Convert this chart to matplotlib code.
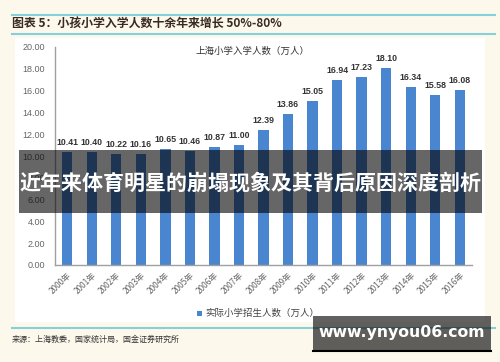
import matplotlib
matplotlib.use("Agg")
import matplotlib.pyplot as plt
from matplotlib.patches import Rectangle
from matplotlib.lines import Line2D

plt.rcParams['font.family'] = ['Noto Sans CJK SC', 'DejaVu Sans']

years = ["2000年", "2001年", "2002年", "2003年", "2004年", "2005年", "2006年", "2007年", "2008年",
         "2009年", "2010年", "2011年", "2012年", "2013年", "2014年", "2015年", "2016年"]
values = [10.41, 10.40, 10.22, 10.16, 10.65, 10.46, 10.87, 11.00, 12.39,
          13.86, 15.05, 16.94, 17.23, 18.10, 16.34, 15.58, 16.08]
yticks = [0, 2, 4, 6, 8, 10, 12, 14, 16, 18, 20]
header = "图表 5：小孩小学入学人数十余年来增长 50%-80%"
chart_title = "上海小学入学人数（万人）"
legend_label = "实际小学招生人数（万人）"
source = "来源：上海教委，国家统计局，国金证券研究所"
banner = "近年来体育明星的崩塌现象及其背后原因深度剖析"
watermark = "www.ynyou06.com"

W, H = 500, 362
fig = plt.figure(figsize=(W / 100, H / 100), dpi=100, facecolor="#fdf8ec")

def fx(x):
    return x / W

def fy(y):
    return 1 - y / H

# white panel
fig.patches.append(Rectangle((fx(15), fy(322)), fx(470), (322 - 38) / H, transform=fig.transFigure,
                             facecolor="white", edgecolor="none", zorder=-5))

# header lines
teal = "#86d0da"
for yy in (15, 34, 328):
    fig.add_artist(Line2D([fx(12), fx(495)], [fy(yy), fy(yy)], color=teal, lw=1.5,
                          transform=fig.transFigure))
fig.text(fx(12), fy(24), header, fontsize=8.6, fontweight="bold", style="italic",
         color="#3a2a22", ha="left", va="center")

# axes
ax = fig.add_axes([fx(55), fy(265), fx(417), (265 - 47) / H])
ax.set_zorder(1)
ax.set_facecolor("none")
x = range(len(years))
bar_color = "#4a86d0"
ax.bar(x, values, width=0.42, color=bar_color, zorder=2)
for xi, v in zip(x, values):
    ax.text(xi, v + 0.45, f"{v:.2f}", ha="center", va="bottom", fontsize=6.3,
            fontweight="bold", color="#333333", family="Liberation Sans")
ax.set_ylim(0, 20)
ax.set_xlim(-0.5, len(years) - 0.5)
ax.set_yticks(yticks)
ax.set_yticklabels([f"{t:.2f}" for t in yticks], fontsize=6.5, color="#666666",
                   family="Liberation Sans")
ax.set_xticks(list(x))
ax.set_xticklabels(years, rotation=45, ha="right", va="top", rotation_mode="anchor",
                   fontsize=6, color="#666666")
ax.tick_params(axis="both", length=0, pad=4)
ax.tick_params(axis="y", pad=7)
for s in ("top", "right"):
    ax.spines[s].set_visible(False)
ax.spines["left"].set_color("#a0a0a0")
ax.spines["bottom"].set_color("#a0a0a0")
ax.spines["left"].set_linewidth(1)
ax.spines["bottom"].set_linewidth(1)

fig.text(fx(252), fy(51), chart_title, fontsize=6.8, color="#333333", ha="center", va="center")

# legend
fig.patches.append(Rectangle((fx(197), fy(316)), fx(5), 5 / H, transform=fig.transFigure,
                             facecolor=bar_color, edgecolor="none"))
fig.text(fx(205), fy(313), legend_label, fontsize=6.8, color="#444444", ha="left", va="center")

# source
fig.text(fx(12), fy(339), source, fontsize=5.8, color="#333333", ha="left", va="center")

# banner overlay
fig.patches.append(Rectangle((fx(19), fy(213)), fx(463), (213 - 150) / H, transform=fig.transFigure,
                             facecolor="black", alpha=0.6, edgecolor="none", zorder=5))
fig.text(fx(250), fy(183), banner, fontsize=15.1, fontweight="bold", color="white",
         ha="center", va="center", zorder=6)

# watermark box
fig.patches.append(Rectangle((fx(313), fy(352)), fx(178), (352 - 316) / H, transform=fig.transFigure,
                             facecolor="black", alpha=0.62, edgecolor="none", zorder=5))
fig.add_artist(Line2D([fx(313), fx(491)], [fy(351), fy(351)], color="black", lw=1.5,
                      transform=fig.transFigure, zorder=6))
fig.text(fx(402), fy(333), watermark, fontsize=11.3, fontweight="bold", color="white",
         ha="center", va="center", family="DejaVu Sans", zorder=7)

fig.savefig("out.png", dpi=100, facecolor=fig.get_facecolor())
